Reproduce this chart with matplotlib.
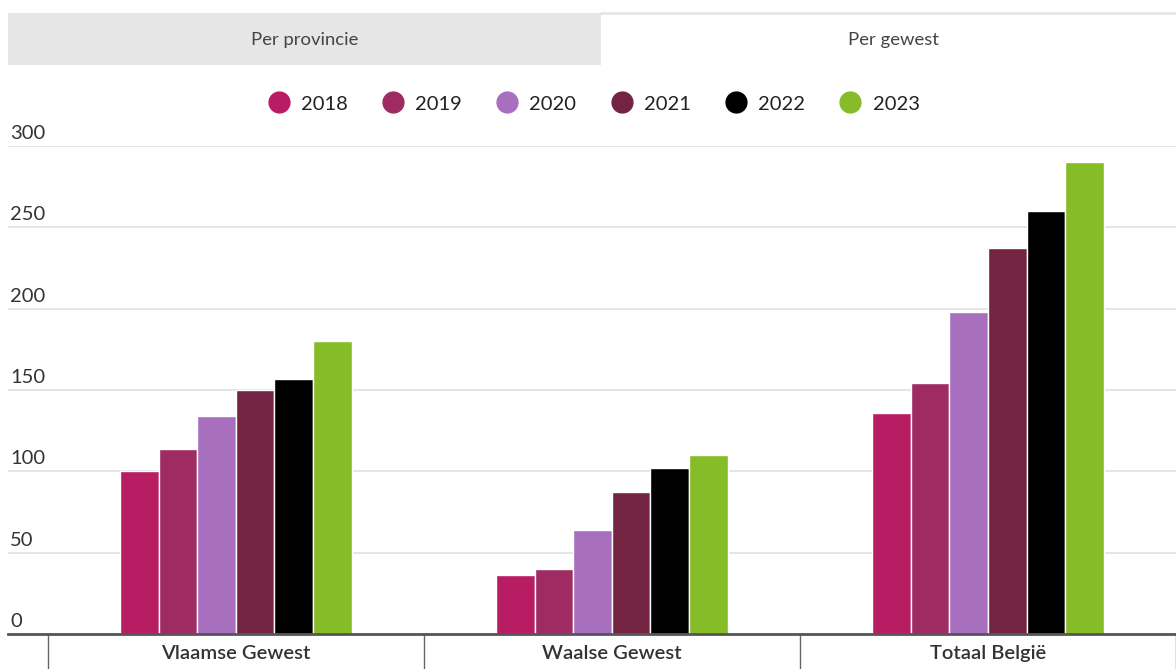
import matplotlib
matplotlib.use("Agg")
import matplotlib.pyplot as plt
import matplotlib.transforms as mtransforms
from matplotlib.lines import Line2D
from matplotlib.patches import Rectangle
import numpy as np

plt.rcParams['font.family'] = ['Lato', 'DejaVu Sans']

categories = ["Vlaamse Gewest", "Waalse Gewest", "Totaal België"]
years = ["2018", "2019", "2020", "2021", "2022", "2023"]
values = {
    "2018": [100, 36, 136],
    "2019": [114, 40, 154],
    "2020": [134, 64, 198],
    "2021": [150, 87, 237],
    "2022": [157, 102, 260],
    "2023": [180, 110, 290],
}
colors = ["#B81C62", "#9E2B62", "#A86FBE", "#722442", "#000000", "#86BC27"]
yticks = [0, 50, 100, 150, 200, 250, 300]
tabs = ["Per provincie", "Per gewest"]

W, H = 1176, 669
fig = plt.figure(figsize=(W / 100, H / 100), dpi=100)

# tabs
fig.patches.append(Rectangle((8 / W, 1 - 65 / H), (601 - 8) / W, 52 / H,
                             transform=fig.transFigure, facecolor="#E6E6E6",
                             edgecolor="none"))
fig.add_artist(Line2D([601 / W, 1], [1 - 13 / H, 1 - 13 / H], color="#E6E6E6",
                      lw=2, transform=fig.transFigure))
fig.text(305 / W, 1 - 40 / H, tabs[0], ha="center", va="center", fontsize=13.3, color="#444444")
fig.text(893 / W, 1 - 40 / H, tabs[1], ha="center", va="center", fontsize=13.3, color="#444444")

# axes
ax_left, ax_right = 8, 1176
ax_bottom, ax_top = 634, 146
ax = fig.add_axes([ax_left / W, (H - ax_bottom) / H, (ax_right - ax_left) / W,
                   (ax_bottom - ax_top) / H])

unit = 379.5
center0 = 238.0
xlim_left = -(center0 - ax_left) / unit
xlim_right = (ax_right - center0) / unit

x = np.arange(len(categories))
bw = 38.9 / unit
n = len(years)
for i, (yr, c) in enumerate(zip(years, colors)):
    offs = (i - (n - 1) / 2) * bw
    ax.bar(x + offs, values[yr], width=bw, color=c, edgecolor="white",
           linewidth=1.0, zorder=3)

ax.set_xlim(xlim_left, xlim_right)
ax.set_ylim(0, 300)

for s in ["top", "right", "left"]:
    ax.spines[s].set_visible(False)
ax.spines["bottom"].set_color("#555555")
ax.spines["bottom"].set_linewidth(2)
ax.spines["bottom"].set_zorder(5)

ax.set_yticks(yticks)
ax.set_yticklabels([])
ax.tick_params(axis="y", length=0)
ax.grid(axis="y", color="#E3E3E3", linewidth=1.3, zorder=0)
trans = mtransforms.blended_transform_factory(ax.transAxes, ax.transData)
trans = mtransforms.offset_copy(trans, fig=fig, x=0, y=4, units="dots")
for t in yticks:
    ax.text(2 / (ax_right - ax_left), t, str(t), transform=trans, ha="left",
            va="bottom", fontsize=14.5, color="#333333")

ax.set_xticks(x)
ax.set_xticklabels(categories, fontsize=14.5, color="#333333", fontweight="semibold")
ax.tick_params(axis="x", which="major", length=0, pad=8)
ax.set_xticks([-0.5, 0.5, 1.5, 2.5], minor=True)
ax.tick_params(axis="x", which="minor", length=28, width=1, color="#666666",
               direction="out")

handles = [Line2D([0], [0], marker="o", linestyle="none", markersize=15,
                  markerfacecolor=c, markeredgecolor=c) for c in colors]
fig.legend(handles, years, loc="center", bbox_to_anchor=(593 / W, 1 - 104 / H),
           ncol=6, frameon=False, fontsize=14.5, handletextpad=0.5,
           columnspacing=1.65, handlelength=1.2, labelcolor="#222222")

fig.savefig("out.png", dpi=100)
